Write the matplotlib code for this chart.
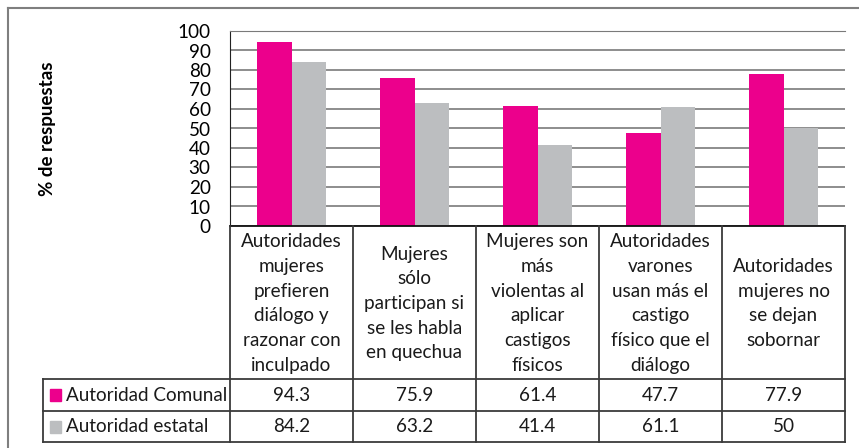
import matplotlib.pyplot as plt
from matplotlib.lines import Line2D
from matplotlib.patches import Rectangle

plt.rcParams['font.family'] = ['Lato', 'DejaVu Sans']

categories = [
    "Autoridades\nmujeres\nprefieren\ndiálogo y\nrazonar con\ninculpado",
    "Mujeres\nsólo\nparticipan si\nse les habla\nen quechua",
    "Mujeres son\nmás\nviolentas al\naplicar\ncastigos\nfísicos",
    "Autoridades\nvarones\nusan más el\ncastigo\nfísico que el\ndiálogo",
    "Autoridades\nmujeres no\nse dejan\nsobornar",
]
series_names = ["Autoridad Comunal", "Autoridad estatal"]
comunal = [94.3, 75.9, 61.4, 47.7, 77.9]
estatal = [84.2, 63.2, 41.4, 61.1, 50]
value_labels = [["94.3", "75.9", "61.4", "47.7", "77.9"],
                ["84.2", "63.2", "41.4", "61.1", "50"]]
colors = ["#EC008C", "#BCBEC0"]

W, H = 859, 448
fig = plt.figure(figsize=(W / 100, H / 100), dpi=100)
FS = 13.6


def fx(x):
    return x / W


def fy(y):
    return 1 - y / H


def hline(x0, x1, y, color="#3a3a3a", lw=1.3):
    fig.add_artist(Line2D([fx(x0), fx(x1)], [fy(y), fy(y)], color=color, lw=lw))


def vline(x, y0, y1, color="#3a3a3a", lw=1.3):
    fig.add_artist(Line2D([fx(x), fx(x)], [fy(y0), fy(y1)], color=color, lw=lw))


# outer chart frame (runs off the right and bottom edges)
hline(8, W + 5, 8, color="#7f7f7f", lw=1.5)
vline(8, 8, H + 5, color="#7f7f7f", lw=1.5)

# plot area
left, right, top, bottom = 230, 845, 31, 226
ax = fig.add_axes([fx(left), fy(bottom), fx(right - left), (bottom - top) / H])
n = len(comunal)
xs = range(n)
bw = 0.28
ax.bar([x - bw / 2 for x in xs], comunal, width=bw, color=colors[0], zorder=3)
ax.bar([x + bw / 2 for x in xs], estatal, width=bw, color=colors[1], zorder=3)
ax.set_xlim(-0.5, n - 0.5)
ax.set_ylim(0, 100)
ax.set_yticks(range(0, 101, 10))
ax.set_xticks([])
ax.tick_params(axis='y', length=0, pad=14, labelsize=FS)
ax.yaxis.grid(True, color="#7a7a7a", lw=1.2, zorder=0)
ax.spines["right"].set_visible(False)
ax.spines["top"].set_color("#7a7a7a")
ax.spines["left"].set_color("#222222")
ax.spines["bottom"].set_visible(False)
ax.set_ylabel("% de respuestas", fontsize=13.5, fontweight="bold", labelpad=0)
ax.yaxis.set_label_coords(-0.283, 0.5)

# data table under the axis
cols = [left + i * (right - left) / n for i in range(n + 1)]
row_h = 226, 379, 411, 442
tab_left = 43
hline(left, right, row_h[0], color="#111111")
for y in row_h[1:]:
    hline(tab_left, right, y)
for x in cols:
    vline(x, row_h[0], row_h[3])
vline(tab_left, row_h[1], row_h[3])

for i, cat in enumerate(categories):
    cx = (cols[i] + cols[i + 1]) / 2
    fig.text(fx(cx), fy((row_h[0] + row_h[1]) / 2 + 1), cat, ha="center", va="center",
             fontsize=FS, linespacing=1.55, color="#1a1a1a")

for r in range(2):
    yc = (row_h[r + 1] + row_h[r + 2]) / 2
    fig.add_artist(Rectangle((fx(50), fy(yc + 6)), fx(11), 12 / H, color=colors[r]))
    fig.text(fx(66), fy(yc), series_names[r], ha="left", va="center", fontsize=FS,
             color="#1a1a1a")
    for i in range(n):
        cx = (cols[i] + cols[i + 1]) / 2
        fig.text(fx(cx), fy(yc), value_labels[r][i], ha="center", va="center",
                 fontsize=FS, color="#1a1a1a")

fig.savefig("out.png", dpi=100)
